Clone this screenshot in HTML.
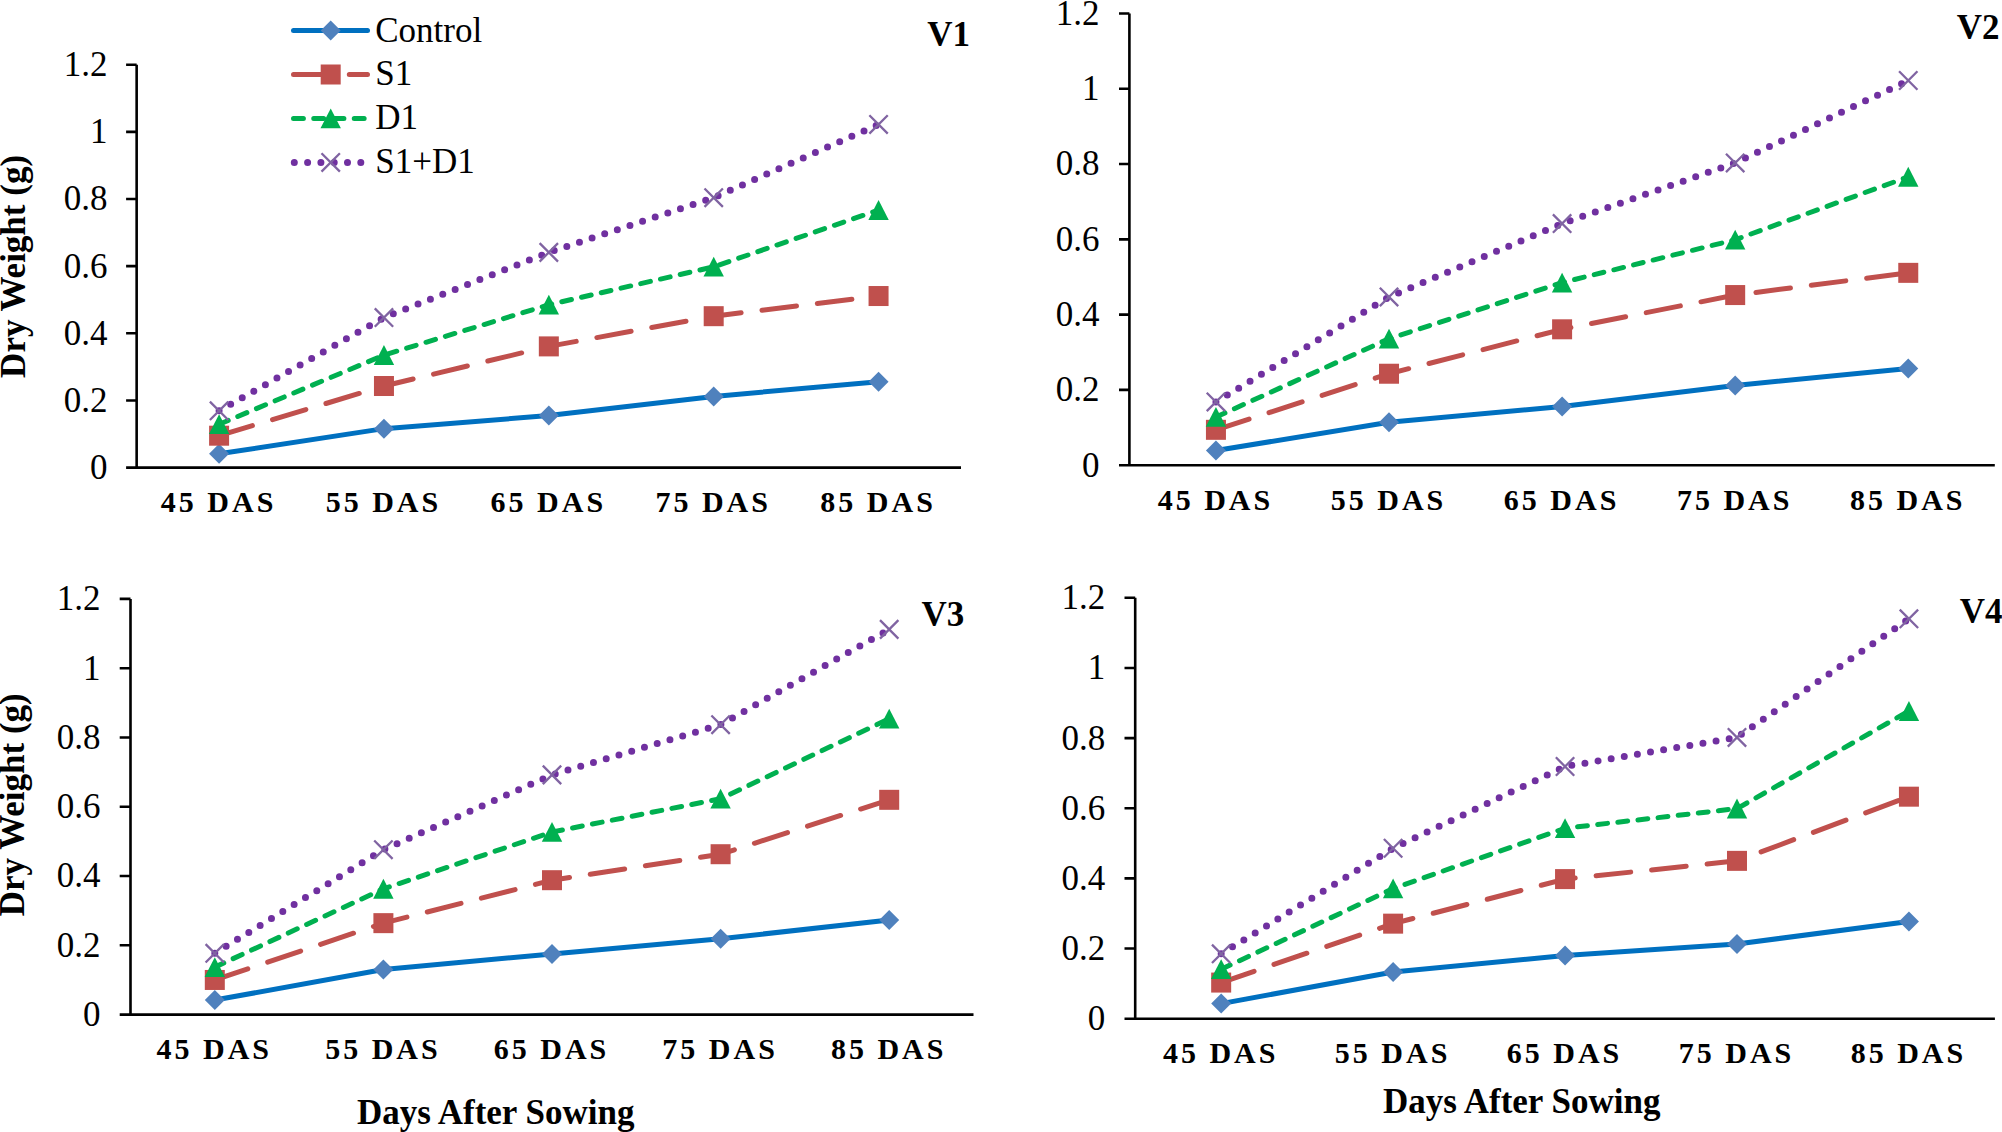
<!DOCTYPE html>
<html><head><meta charset="utf-8"><title>Dry Weight charts</title>
<style>html,body{margin:0;padding:0;background:#fff;}body{width:2002px;height:1132px;overflow:hidden;}svg{display:block;}text{fill:#000;}</style>
</head><body>
<svg width="2002" height="1132" viewBox="0 0 2002 1132" font-family='"Liberation Serif", "Times New Roman", serif'><g><path d="M136.65 64.7V467.6M126.1 467.6H961" stroke="#000" stroke-width="2.6" fill="none"/><path d="M126.1 400.45H136.65M126.1 333.3H136.65M126.1 266.15H136.65M126.1 199H136.65M126.1 131.85H136.65M126.1 64.7H136.65" stroke="#000" stroke-width="2.6" fill="none"/><text x="107.6" y="479" text-anchor="end" font-size="35">0</text><text x="107.6" y="411.85" text-anchor="end" font-size="35">0.2</text><text x="107.6" y="344.7" text-anchor="end" font-size="35">0.4</text><text x="107.6" y="277.55" text-anchor="end" font-size="35">0.6</text><text x="107.6" y="210.4" text-anchor="end" font-size="35">0.8</text><text x="107.6" y="143.25" text-anchor="end" font-size="35">1</text><text x="107.6" y="76.1" text-anchor="end" font-size="35">1.2</text><text x="218.59" y="512.3" text-anchor="middle" font-size="30" font-weight="bold" letter-spacing="3.0">45 DAS</text><text x="383.46" y="512.3" text-anchor="middle" font-size="30" font-weight="bold" letter-spacing="3.0">55 DAS</text><text x="548.33" y="512.3" text-anchor="middle" font-size="30" font-weight="bold" letter-spacing="3.0">65 DAS</text><text x="713.2" y="512.3" text-anchor="middle" font-size="30" font-weight="bold" letter-spacing="3.0">75 DAS</text><text x="878.06" y="512.3" text-anchor="middle" font-size="30" font-weight="bold" letter-spacing="3.0">85 DAS</text><path d="M219.09 453.83L383.96 428.65L548.83 415.56L713.7 396.42L878.56 381.65" fill="none" stroke="#0070C0" stroke-width="5.0" stroke-linejoin="round" stroke-linecap="round"/><path d="M219.09 443.83L229.09 453.83L219.09 463.83L209.09 453.83Z" fill="#4F81BD"/><path d="M383.96 418.65L393.96 428.65L383.96 438.65L373.96 428.65Z" fill="#4F81BD"/><path d="M548.83 405.56L558.83 415.56L548.83 425.56L538.83 415.56Z" fill="#4F81BD"/><path d="M713.7 386.42L723.7 396.42L713.7 406.42L703.7 396.42Z" fill="#4F81BD"/><path d="M878.56 371.65L888.56 381.65L878.56 391.65L868.56 381.65Z" fill="#4F81BD"/><path d="M219.09 435.7L383.96 386.01L548.83 346.39L713.7 316.18L878.56 296.03" fill="none" stroke="#C0504D" stroke-width="5.0" stroke-dasharray="34.8 21" stroke-linejoin="round" stroke-linecap="round"/><rect x="209.09" y="425.7" width="20" height="20" fill="#C0504D"/><rect x="373.96" y="376.01" width="20" height="20" fill="#C0504D"/><rect x="538.83" y="336.39" width="20" height="20" fill="#C0504D"/><rect x="703.7" y="306.18" width="20" height="20" fill="#C0504D"/><rect x="868.56" y="286.03" width="20" height="20" fill="#C0504D"/><path d="M219.09 424.29L383.96 355.12L548.83 304.76L713.7 266.82L878.56 210.08" fill="none" stroke="#00B050" stroke-width="5.0" stroke-dasharray="9.9 10.35" stroke-linejoin="round" stroke-linecap="round"/><path d="M219.09 414.29L229.28 434.09L208.89 434.09Z" fill="#00B050"/><path d="M383.96 345.12L394.16 364.92L373.76 364.92Z" fill="#00B050"/><path d="M548.83 294.76L559.03 314.56L538.62 314.56Z" fill="#00B050"/><path d="M713.7 256.82L723.9 276.62L703.5 276.62Z" fill="#00B050"/><path d="M878.56 200.08L888.76 219.88L868.36 219.88Z" fill="#00B050"/><path d="M219.09 410.86L383.96 317.52L548.83 252.38L713.7 197.66L878.56 124.46" fill="none" stroke="#7030A0" stroke-width="7.0" stroke-dasharray="0 13.3" stroke-linejoin="round" stroke-linecap="round"/><path d="M209.89 401.66L228.28 420.06M228.28 401.66L209.89 420.06" stroke="#8064A2" stroke-width="2.3" fill="none"/><path d="M374.76 308.32L393.16 326.72M393.16 308.32L374.76 326.72" stroke="#8064A2" stroke-width="2.3" fill="none"/><path d="M539.62 243.18L558.03 261.58M558.03 243.18L539.62 261.58" stroke="#8064A2" stroke-width="2.3" fill="none"/><path d="M704.5 188.46L722.9 206.86M722.9 188.46L704.5 206.86" stroke="#8064A2" stroke-width="2.3" fill="none"/><path d="M869.36 115.26L887.76 133.66M887.76 115.26L869.36 133.66" stroke="#8064A2" stroke-width="2.3" fill="none"/><text x="927.3" y="46.3" font-size="35" font-weight="bold">V1</text><text transform="translate(24.8 377.9) rotate(-90)" font-size="35" font-weight="bold">Dry Weight (g)</text></g><g><path d="M1129.4 13.5V465.2M1119 465.2H1994.8" stroke="#000" stroke-width="2.6" fill="none"/><path d="M1119 389.92H1129.4M1119 314.63H1129.4M1119 239.35H1129.4M1119 164.07H1129.4M1119 88.78H1129.4M1119 13.5H1129.4" stroke="#000" stroke-width="2.6" fill="none"/><text x="1099.4" y="476.6" text-anchor="end" font-size="35">0</text><text x="1099.4" y="401.32" text-anchor="end" font-size="35">0.2</text><text x="1099.4" y="326.03" text-anchor="end" font-size="35">0.4</text><text x="1099.4" y="250.75" text-anchor="end" font-size="35">0.6</text><text x="1099.4" y="175.47" text-anchor="end" font-size="35">0.8</text><text x="1099.4" y="100.18" text-anchor="end" font-size="35">1</text><text x="1099.4" y="24.9" text-anchor="end" font-size="35">1.2</text><text x="1215.44" y="509.85" text-anchor="middle" font-size="30" font-weight="bold" letter-spacing="3.0">45 DAS</text><text x="1388.52" y="509.85" text-anchor="middle" font-size="30" font-weight="bold" letter-spacing="3.0">55 DAS</text><text x="1561.6" y="509.85" text-anchor="middle" font-size="30" font-weight="bold" letter-spacing="3.0">65 DAS</text><text x="1734.68" y="509.85" text-anchor="middle" font-size="30" font-weight="bold" letter-spacing="3.0">75 DAS</text><text x="1907.76" y="509.85" text-anchor="middle" font-size="30" font-weight="bold" letter-spacing="3.0">85 DAS</text><path d="M1215.94 450.52L1389.02 422.29L1562.1 406.48L1735.18 385.4L1908.26 368.46" fill="none" stroke="#0070C0" stroke-width="5.0" stroke-linejoin="round" stroke-linecap="round"/><path d="M1215.94 440.52L1225.94 450.52L1215.94 460.52L1205.94 450.52Z" fill="#4F81BD"/><path d="M1389.02 412.29L1399.02 422.29L1389.02 432.29L1379.02 422.29Z" fill="#4F81BD"/><path d="M1562.1 396.48L1572.1 406.48L1562.1 416.48L1552.1 406.48Z" fill="#4F81BD"/><path d="M1735.18 375.4L1745.18 385.4L1735.18 395.4L1725.18 385.4Z" fill="#4F81BD"/><path d="M1908.26 358.46L1918.26 368.46L1908.26 378.46L1898.26 368.46Z" fill="#4F81BD"/><path d="M1215.94 429.82L1389.02 373.73L1562.1 329.31L1735.18 295.06L1908.26 272.85" fill="none" stroke="#C0504D" stroke-width="5.0" stroke-dasharray="34.8 21" stroke-linejoin="round" stroke-linecap="round"/><rect x="1205.94" y="419.82" width="20" height="20" fill="#C0504D"/><rect x="1379.02" y="363.73" width="20" height="20" fill="#C0504D"/><rect x="1552.1" y="319.31" width="20" height="20" fill="#C0504D"/><rect x="1725.18" y="285.06" width="20" height="20" fill="#C0504D"/><rect x="1898.26" y="262.85" width="20" height="20" fill="#C0504D"/><path d="M1215.94 417.02L1389.02 338.72L1562.1 282.64L1735.18 239.73L1908.26 176.86" fill="none" stroke="#00B050" stroke-width="5.0" stroke-dasharray="9.9 10.35" stroke-linejoin="round" stroke-linecap="round"/><path d="M1215.94 407.02L1226.14 426.82L1205.74 426.82Z" fill="#00B050"/><path d="M1389.02 328.72L1399.22 348.52L1378.82 348.52Z" fill="#00B050"/><path d="M1562.1 272.64L1572.3 292.44L1551.9 292.44Z" fill="#00B050"/><path d="M1735.18 229.73L1745.38 249.53L1724.98 249.53Z" fill="#00B050"/><path d="M1908.26 166.86L1918.46 186.66L1898.06 186.66Z" fill="#00B050"/><path d="M1215.94 401.96L1389.02 296.94L1562.1 223.54L1735.18 162.94L1908.26 80.5" fill="none" stroke="#7030A0" stroke-width="7.0" stroke-dasharray="0 13.3" stroke-linejoin="round" stroke-linecap="round"/><path d="M1206.74 392.76L1225.14 411.16M1225.14 392.76L1206.74 411.16" stroke="#8064A2" stroke-width="2.3" fill="none"/><path d="M1379.82 287.74L1398.22 306.14M1398.22 287.74L1379.82 306.14" stroke="#8064A2" stroke-width="2.3" fill="none"/><path d="M1552.9 214.34L1571.3 232.74M1571.3 214.34L1552.9 232.74" stroke="#8064A2" stroke-width="2.3" fill="none"/><path d="M1725.98 153.74L1744.38 172.14M1744.38 153.74L1725.98 172.14" stroke="#8064A2" stroke-width="2.3" fill="none"/><path d="M1899.06 71.3L1917.46 89.7M1917.46 71.3L1899.06 89.7" stroke="#8064A2" stroke-width="2.3" fill="none"/><text x="1956.7" y="38.8" font-size="35" font-weight="bold">V2</text></g><g><path d="M130.5 598.9V1014.6M119.7 1014.6H973.5" stroke="#000" stroke-width="2.6" fill="none"/><path d="M119.7 945.32H130.5M119.7 876.03H130.5M119.7 806.75H130.5M119.7 737.47H130.5M119.7 668.18H130.5M119.7 598.9H130.5" stroke="#000" stroke-width="2.6" fill="none"/><text x="100.4" y="1026" text-anchor="end" font-size="35">0</text><text x="100.4" y="956.72" text-anchor="end" font-size="35">0.2</text><text x="100.4" y="887.43" text-anchor="end" font-size="35">0.4</text><text x="100.4" y="818.15" text-anchor="end" font-size="35">0.6</text><text x="100.4" y="748.87" text-anchor="end" font-size="35">0.8</text><text x="100.4" y="679.58" text-anchor="end" font-size="35">1</text><text x="100.4" y="610.3" text-anchor="end" font-size="35">1.2</text><text x="214.3" y="1059.2" text-anchor="middle" font-size="30" font-weight="bold" letter-spacing="3.0">45 DAS</text><text x="382.9" y="1059.2" text-anchor="middle" font-size="30" font-weight="bold" letter-spacing="3.0">55 DAS</text><text x="551.5" y="1059.2" text-anchor="middle" font-size="30" font-weight="bold" letter-spacing="3.0">65 DAS</text><text x="720.1" y="1059.2" text-anchor="middle" font-size="30" font-weight="bold" letter-spacing="3.0">75 DAS</text><text x="888.7" y="1059.2" text-anchor="middle" font-size="30" font-weight="bold" letter-spacing="3.0">85 DAS</text><path d="M214.8 1000.05L383.4 969.57L552 953.98L720.6 938.73L889.2 920.03" fill="none" stroke="#0070C0" stroke-width="5.0" stroke-linejoin="round" stroke-linecap="round"/><path d="M214.8 990.05L224.8 1000.05L214.8 1010.05L204.8 1000.05Z" fill="#4F81BD"/><path d="M383.4 959.57L393.4 969.57L383.4 979.57L373.4 969.57Z" fill="#4F81BD"/><path d="M552 943.98L562 953.98L552 963.98L542 953.98Z" fill="#4F81BD"/><path d="M720.6 928.73L730.6 938.73L720.6 948.73L710.6 938.73Z" fill="#4F81BD"/><path d="M889.2 910.03L899.2 920.03L889.2 930.03L879.2 920.03Z" fill="#4F81BD"/><path d="M214.8 979.96L383.4 923.15L552 880.19L720.6 854.21L889.2 799.82" fill="none" stroke="#C0504D" stroke-width="5.0" stroke-dasharray="34.8 21" stroke-linejoin="round" stroke-linecap="round"/><rect x="204.8" y="969.96" width="20" height="20" fill="#C0504D"/><rect x="373.4" y="913.15" width="20" height="20" fill="#C0504D"/><rect x="542" y="870.19" width="20" height="20" fill="#C0504D"/><rect x="710.6" y="844.21" width="20" height="20" fill="#C0504D"/><rect x="879.2" y="789.82" width="20" height="20" fill="#C0504D"/><path d="M214.8 967.14L383.4 888.85L552 832.04L720.6 798.78L889.2 718.76" fill="none" stroke="#00B050" stroke-width="5.0" stroke-dasharray="9.9 10.35" stroke-linejoin="round" stroke-linecap="round"/><path d="M214.8 957.14L225 976.94L204.6 976.94Z" fill="#00B050"/><path d="M383.4 878.85L393.6 898.65L373.2 898.65Z" fill="#00B050"/><path d="M552 822.04L562.2 841.84L541.8 841.84Z" fill="#00B050"/><path d="M720.6 788.78L730.8 808.58L710.4 808.58Z" fill="#00B050"/><path d="M889.2 708.76L899.4 728.56L879 728.56Z" fill="#00B050"/><path d="M214.8 953.28L383.4 849.71L552 774.88L720.6 724.65L889.2 629.38" fill="none" stroke="#7030A0" stroke-width="7.0" stroke-dasharray="0 13.3" stroke-linejoin="round" stroke-linecap="round"/><path d="M205.6 944.08L224 962.48M224 944.08L205.6 962.48" stroke="#8064A2" stroke-width="2.3" fill="none"/><path d="M374.2 840.51L392.6 858.91M392.6 840.51L374.2 858.91" stroke="#8064A2" stroke-width="2.3" fill="none"/><path d="M542.8 765.68L561.2 784.08M561.2 765.68L542.8 784.08" stroke="#8064A2" stroke-width="2.3" fill="none"/><path d="M711.4 715.45L729.8 733.85M729.8 715.45L711.4 733.85" stroke="#8064A2" stroke-width="2.3" fill="none"/><path d="M880 620.18L898.4 638.58M898.4 620.18L880 638.58" stroke="#8064A2" stroke-width="2.3" fill="none"/><text x="921.6" y="626.1" font-size="35" font-weight="bold">V3</text><text x="357" y="1124" font-size="35" font-weight="bold">Days After Sowing</text><text transform="translate(24 916.2) rotate(-90)" font-size="35" font-weight="bold">Dry Weight (g)</text></g><g><path d="M1135.2 597.8V1018.7M1124.5 1018.7H1994.9" stroke="#000" stroke-width="2.6" fill="none"/><path d="M1124.5 948.55H1135.2M1124.5 878.4H1135.2M1124.5 808.25H1135.2M1124.5 738.1H1135.2M1124.5 667.95H1135.2M1124.5 597.8H1135.2" stroke="#000" stroke-width="2.6" fill="none"/><text x="1105.3" y="1030.1" text-anchor="end" font-size="35">0</text><text x="1105.3" y="959.95" text-anchor="end" font-size="35">0.2</text><text x="1105.3" y="889.8" text-anchor="end" font-size="35">0.4</text><text x="1105.3" y="819.65" text-anchor="end" font-size="35">0.6</text><text x="1105.3" y="749.5" text-anchor="end" font-size="35">0.8</text><text x="1105.3" y="679.35" text-anchor="end" font-size="35">1</text><text x="1105.3" y="609.2" text-anchor="end" font-size="35">1.2</text><text x="1220.67" y="1063.2" text-anchor="middle" font-size="30" font-weight="bold" letter-spacing="3.0">45 DAS</text><text x="1392.61" y="1063.2" text-anchor="middle" font-size="30" font-weight="bold" letter-spacing="3.0">55 DAS</text><text x="1564.55" y="1063.2" text-anchor="middle" font-size="30" font-weight="bold" letter-spacing="3.0">65 DAS</text><text x="1736.49" y="1063.2" text-anchor="middle" font-size="30" font-weight="bold" letter-spacing="3.0">75 DAS</text><text x="1908.43" y="1063.2" text-anchor="middle" font-size="30" font-weight="bold" letter-spacing="3.0">85 DAS</text><path d="M1221.17 1003.62L1393.11 972.05L1565.05 955.57L1736.99 943.99L1908.93 921.54" fill="none" stroke="#0070C0" stroke-width="5.0" stroke-linejoin="round" stroke-linecap="round"/><path d="M1221.17 993.62L1231.17 1003.62L1221.17 1013.62L1211.17 1003.62Z" fill="#4F81BD"/><path d="M1393.11 962.05L1403.11 972.05L1393.11 982.05L1383.11 972.05Z" fill="#4F81BD"/><path d="M1565.05 945.57L1575.05 955.57L1565.05 965.57L1555.05 955.57Z" fill="#4F81BD"/><path d="M1736.99 933.99L1746.99 943.99L1736.99 953.99L1726.99 943.99Z" fill="#4F81BD"/><path d="M1908.93 911.54L1918.93 921.54L1908.93 931.54L1898.93 921.54Z" fill="#4F81BD"/><path d="M1221.17 982.57L1393.11 923.65L1565.05 879.1L1736.99 860.86L1908.93 796.68" fill="none" stroke="#C0504D" stroke-width="5.0" stroke-dasharray="34.8 21" stroke-linejoin="round" stroke-linecap="round"/><rect x="1211.17" y="972.57" width="20" height="20" fill="#C0504D"/><rect x="1383.11" y="913.65" width="20" height="20" fill="#C0504D"/><rect x="1555.05" y="869.1" width="20" height="20" fill="#C0504D"/><rect x="1726.99" y="850.86" width="20" height="20" fill="#C0504D"/><rect x="1898.93" y="786.68" width="20" height="20" fill="#C0504D"/><path d="M1221.17 969.24L1393.11 888.57L1565.05 828.24L1736.99 808.6L1908.93 711.09" fill="none" stroke="#00B050" stroke-width="5.0" stroke-dasharray="9.9 10.35" stroke-linejoin="round" stroke-linecap="round"/><path d="M1221.17 959.24L1231.37 979.04L1210.97 979.04Z" fill="#00B050"/><path d="M1393.11 878.57L1403.31 898.37L1382.91 898.37Z" fill="#00B050"/><path d="M1565.05 818.24L1575.25 838.04L1554.85 838.04Z" fill="#00B050"/><path d="M1736.99 798.6L1747.19 818.4L1726.79 818.4Z" fill="#00B050"/><path d="M1908.93 701.09L1919.13 720.89L1898.73 720.89Z" fill="#00B050"/><path d="M1221.17 953.81L1393.11 848.24L1565.05 766.51L1736.99 737.4L1908.93 618.85" fill="none" stroke="#7030A0" stroke-width="7.0" stroke-dasharray="0 13.3" stroke-linejoin="round" stroke-linecap="round"/><path d="M1211.97 944.61L1230.37 963.01M1230.37 944.61L1211.97 963.01" stroke="#8064A2" stroke-width="2.3" fill="none"/><path d="M1383.91 839.04L1402.31 857.44M1402.31 839.04L1383.91 857.44" stroke="#8064A2" stroke-width="2.3" fill="none"/><path d="M1555.85 757.31L1574.25 775.71M1574.25 757.31L1555.85 775.71" stroke="#8064A2" stroke-width="2.3" fill="none"/><path d="M1727.79 728.2L1746.19 746.6M1746.19 728.2L1727.79 746.6" stroke="#8064A2" stroke-width="2.3" fill="none"/><path d="M1899.73 609.64L1918.13 628.05M1918.13 609.64L1899.73 628.05" stroke="#8064A2" stroke-width="2.3" fill="none"/><text x="1959.8" y="622.8" font-size="35" font-weight="bold">V4</text><text x="1383" y="1112.8" font-size="35" font-weight="bold">Days After Sowing</text></g><g><path d="M293.5 30.6H367.5" fill="none" stroke="#0070C0" stroke-width="5.0" stroke-linejoin="round" stroke-linecap="round"/><path d="M330.7 20.6L340.7 30.6L330.7 40.6L320.7 30.6Z" fill="#4F81BD"/><text x="375.2" y="42" font-size="35">Control</text><path d="M293.5 74.5H367.5" fill="none" stroke="#C0504D" stroke-width="5.0" stroke-dasharray="34.8 21" stroke-linejoin="round" stroke-linecap="round"/><rect x="320.7" y="64.5" width="20" height="20" fill="#C0504D"/><text x="375.2" y="84.8" font-size="35">S1</text><path d="M293.5 118.4H367.5" fill="none" stroke="#00B050" stroke-width="5.0" stroke-dasharray="9.9 10.35" stroke-linejoin="round" stroke-linecap="round"/><path d="M330.7 108.4L340.9 128.2L320.5 128.2Z" fill="#00B050"/><text x="375.2" y="128.8" font-size="35">D1</text><path d="M294.3 162.4H367.5" fill="none" stroke="#7030A0" stroke-width="7.0" stroke-dasharray="0 13.3" stroke-linejoin="round" stroke-linecap="round"/><path d="M321.5 153.2L339.9 171.6M339.9 153.2L321.5 171.6" stroke="#8064A2" stroke-width="2.3" fill="none"/><text x="375.2" y="172.9" font-size="35">S1+D1</text></g></svg>
</body></html>
